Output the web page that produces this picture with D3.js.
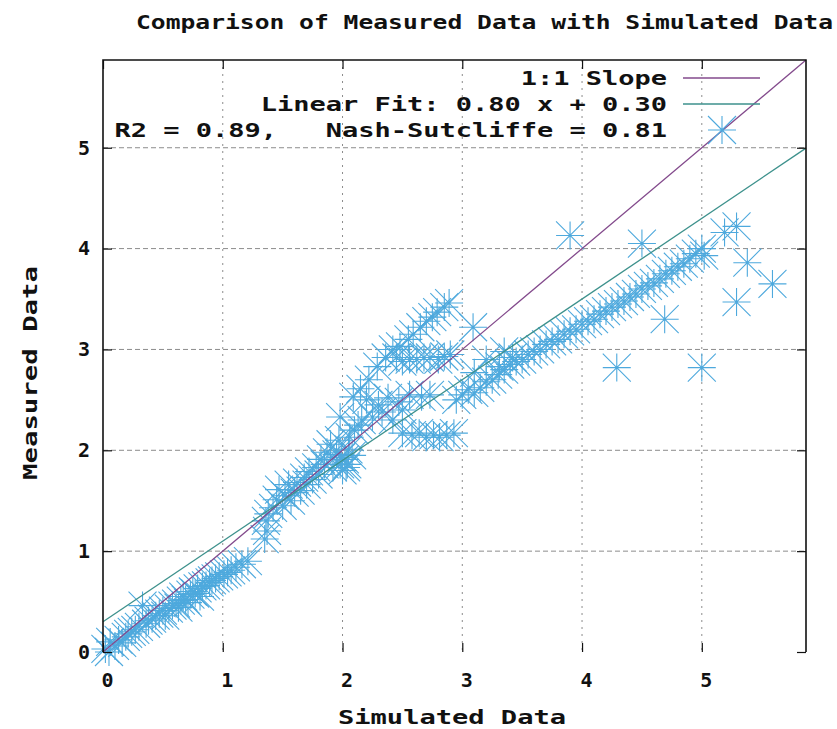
<!DOCTYPE html>
<html>
<head>
<meta charset="utf-8">
<script src="https://cdn.jsdelivr.net/npm/d3@7"></script>
<style>
  html, body { margin: 0; padding: 0; background: #fff; }
  svg { display: block; }
  text { font-family: "DejaVu Sans Mono", "Liberation Mono", monospace; font-weight: bold; fill: #111; white-space: pre; }
</style>
</head>
<body>
<svg id="chart" width="837" height="729"></svg>
<script>
// ---- data: [simulated, measured] pairs, grouped by region of the scatter ----
const lowBand = [
  [0.02,0.03],[0.05,0.00],[0.06,0.10],[0.10,0.06],[0.13,0.12],[0.16,0.09],[0.19,0.15],[0.21,0.18],
  [0.24,0.20],[0.27,0.22],[0.30,0.25],[0.33,0.46],[0.36,0.28],[0.38,0.31],[0.41,0.33],[0.44,0.36],
  [0.47,0.38],[0.50,0.41],[0.52,0.36],[0.55,0.43],[0.58,0.46],[0.61,0.48],[0.63,0.44],[0.65,0.51],
  [0.67,0.55],[0.69,0.52],[0.71,0.49],[0.73,0.57],[0.75,0.60],[0.77,0.58],[0.79,0.63],[0.81,0.55],
  [0.83,0.65],[0.86,0.66],[0.89,0.69],[0.91,0.71],[0.94,0.73],[0.97,0.75],[1.01,0.77],[1.04,0.79],
  [1.07,0.81],[1.11,0.84],[1.16,0.87],[1.21,0.90]
];
const midCluster = [
  [1.35,1.12],[1.37,1.20],[1.36,1.30],[1.38,1.37],[1.42,1.43],[1.45,1.51],[1.47,1.61],[1.50,1.45],
  [1.52,1.55],[1.55,1.66],[1.57,1.50],[1.60,1.58],[1.62,1.68],[1.65,1.60],[1.68,1.73],[1.70,1.66],
  [1.72,1.79],[1.75,1.71],[1.78,1.83],[1.80,1.76],[1.82,1.91],[1.85,1.86],[1.87,1.98],[1.90,2.06],
  [1.92,1.83],[1.95,1.96],[1.97,2.10],[1.98,1.86],[2.00,1.80],[2.02,1.91],[2.04,1.86],[2.05,2.01],
  [2.06,2.13],[2.08,1.95],[2.10,2.20],[2.13,2.25],[2.16,2.30],[2.03,1.83],[1.99,1.93]
];
const upperBranch = [
  [1.98,2.33],[2.09,2.53],[2.15,2.61],[2.22,2.70],[2.29,2.83],[2.36,2.92],[2.42,3.00],[2.48,3.03],
  [2.55,3.10],[2.59,3.15],[2.65,3.22],[2.70,3.28],[2.75,3.32],[2.79,3.37],[2.85,3.42],[2.89,3.46],
  [3.09,3.22]
];
const plateau = [
  [2.45,2.92],[2.50,2.88],[2.56,2.90],[2.62,2.90],[2.68,2.92],[2.73,2.92],[2.80,2.90],[2.85,2.93],
  [2.90,2.95]
];
const middleRows = [
  [2.20,2.50],[2.30,2.45],[2.38,2.52],[2.47,2.48],[2.56,2.55],[2.66,2.53],[2.73,2.55],
  [2.25,2.33],[2.33,2.38],[2.42,2.30],[2.50,2.40],
  [2.50,2.17],[2.58,2.15],[2.64,2.17],[2.70,2.13],[2.76,2.15],[2.81,2.13],[2.87,2.15],[2.93,2.17]
];
const mainBranch = [
  [2.95,2.50],[3.00,2.55],[3.05,2.60],[3.10,2.57],[3.15,2.62],[3.20,2.68],[3.25,2.70],[3.30,2.75],
  [3.35,2.80],[3.40,2.85],[3.45,2.88],[3.50,2.90],[3.55,2.95],[3.60,2.98],[3.65,3.00],[3.70,3.05],
  [3.75,3.08],[3.80,3.10],[3.85,3.15],[3.90,3.18],[3.95,3.20],[4.00,3.25],[4.05,3.28],[4.10,3.30],
  [4.15,3.35],[4.20,3.38],[4.25,3.42],[4.30,3.45],[4.35,3.48],[4.40,3.52],[4.45,3.55],[4.50,3.60],
  [4.55,3.63],[4.60,3.66],[4.65,3.70],[4.70,3.75],[4.75,3.78],[4.80,3.82],[4.85,3.85],[4.90,3.90],
  [4.95,3.95],[5.00,4.00],[5.02,3.93],
  [3.10,2.77],[3.20,2.90],[3.31,2.83],[3.42,2.92],[3.35,2.98]
];
const outliers = [
  [3.90,4.13],[4.50,4.05],[5.19,4.16],[5.29,4.22],[5.38,3.86],[5.59,3.65],[5.29,3.47],
  [4.69,3.30],[4.29,2.82],[5.00,2.82]
];
const points = [].concat(lowBand, midCluster, upperBranch, plateau, middleRows, mainBranch, outliers);

// fit statistics shown in the key
const fitSlope = 0.80, fitIntercept = 0.30, r2 = 0.89, nashSutcliffe = 0.81;
const axisMax = 5.87;
const tickValues = [0, 1, 2, 3, 4, 5];

// ---- layout ----
const svg = d3.select("#chart");
const plot = { left: 103, right: 806, top: 60, bottom: 652 };
const x = d3.scaleLinear().domain([0, axisMax]).range([plot.left, plot.right]);
const y = d3.scaleLinear().domain([0, axisMax]).range([plot.bottom, plot.top]);

const colors = { oneToOne: "#834a8c", fit: "#3d918c", points: "#4ea9dd", grid: "#8c8c8c" };

// grid
const grid = svg.append("g");
grid.selectAll("line.gx").data(tickValues.slice(1)).join("line")
  .attr("x1", d => x(d)).attr("x2", d => x(d))
  .attr("y1", plot.top).attr("y2", plot.bottom)
  .attr("stroke", colors.grid).attr("stroke-width", 1).attr("stroke-dasharray", "2,5");
grid.selectAll("line.gy").data(tickValues.slice(1)).join("line")
  .attr("x1", plot.left).attr("x2", plot.right)
  .attr("y1", d => y(d)).attr("y2", d => y(d))
  .attr("stroke", colors.grid).attr("stroke-width", 1).attr("stroke-dasharray", "5,3");

// asterisk marker: a plus and a cross drawn through the centre
const s = 14;
const star = `M${-s},0H${s}M0,${-s}V${s}M${-s},${-s}L${s},${s}M${-s},${s}L${s},${-s}`;

svg.append("g").selectAll("path").data(points).join("path")
  .attr("transform", d => `translate(${x(d[0])},${y(d[1])})`)
  .attr("d", star)
  .attr("fill", "none").attr("stroke", colors.points).attr("stroke-width", 1.1);

// reference lines
const lineGen = d3.line().x(d => x(d[0])).y(d => y(d[1]));
const xs = [0, axisMax];
svg.append("path")
  .attr("d", lineGen(xs.map(v => [v, v])))
  .attr("fill", "none").attr("stroke", colors.oneToOne).attr("stroke-width", 1.3);
svg.append("path")
  .attr("d", lineGen(xs.map(v => [v, fitSlope * v + fitIntercept])))
  .attr("fill", "none").attr("stroke", colors.fit).attr("stroke-width", 1.3);

// axes (ticks drawn inward on every side)
const fontSize = 20;
const bottomAxis = svg.append("g").attr("transform", `translate(0,${plot.bottom})`)
  .call(d3.axisBottom(x).tickValues(tickValues).tickSize(-9).tickPadding(21).tickFormat(d3.format("d")));
const leftAxis = svg.append("g").attr("transform", `translate(${plot.left},0)`)
  .call(d3.axisLeft(y).tickValues(tickValues).tickSize(-9).tickPadding(13).tickFormat(d3.format("d")));
svg.append("g").attr("transform", `translate(0,${plot.top})`)
  .call(d3.axisTop(x).tickValues(tickValues).tickSize(-9).tickFormat(""));
svg.append("g").attr("transform", `translate(${plot.right},0)`)
  .call(d3.axisRight(y).tickValues(tickValues).tickSize(-9).tickFormat(""));

svg.selectAll(".domain").remove();
svg.selectAll(".tick line").attr("stroke", "#111").attr("stroke-width", 1.2);
svg.selectAll(".tick text").attr("font-size", fontSize).attr("font-family", null).style("fill", "#111");
bottomAxis.selectAll(".tick text").attr("x", 4);

// border: left, top, right
svg.append("path")
  .attr("d", `M${plot.left},${plot.bottom}V${plot.top}H${plot.right}V${plot.bottom}`)
  .attr("fill", "none").attr("stroke", "#111").attr("stroke-width", 1.6);

// text helper: fixed-width string stretched to a given width
function label(str, x0, yc, width, size, rotate) {
  const t = svg.append("text")
    .attr("x", x0).attr("y", yc).attr("dy", "0.36em")
    .attr("font-size", size)
    .attr("xml:space", "preserve")
    .attr("textLength", width).attr("lengthAdjust", "spacingAndGlyphs")
    .text(str);
  if (rotate) t.attr("transform", rotate);
  return t;
}

// title
const title = "Comparison of Measured Data with Simulated Data";
label(title, 136, 22, 697, 20);

// axis titles
const xTitle = "Simulated Data", yTitle = "Measured Data";
label(xTitle, 338, 717, 228, 20);
label(yTitle, -373 - 107, 30, 214, 20, "rotate(-90)");

// key
const keyRight = 667, charW = 16.25;
const keyEntries = [
  { text: "1:1 Slope", y: 78, type: "line", color: colors.oneToOne },
  { text: `Linear Fit: ${fitSlope.toFixed(2)} x + ${fitIntercept.toFixed(2)}`, y: 104, type: "line", color: colors.fit },
  { text: `R2 = ${r2.toFixed(2)},   Nash-Sutcliffe = ${nashSutcliffe.toFixed(2)}`, y: 130, type: "point", color: colors.points }
];
keyEntries.forEach(e => {
  const w = e.text.length * charW;
  label(e.text, keyRight - w, e.y, w, 20);
  if (e.type === "line") {
    svg.append("line").attr("x1", 683).attr("x2", 760).attr("y1", e.y).attr("y2", e.y)
      .attr("stroke", e.color).attr("stroke-width", 1.3);
  } else {
    svg.append("path").attr("transform", `translate(722,${e.y})`).attr("d", star)
      .attr("fill", "none").attr("stroke", e.color).attr("stroke-width", 1.1);
  }
});
</script>
</body>
</html>
